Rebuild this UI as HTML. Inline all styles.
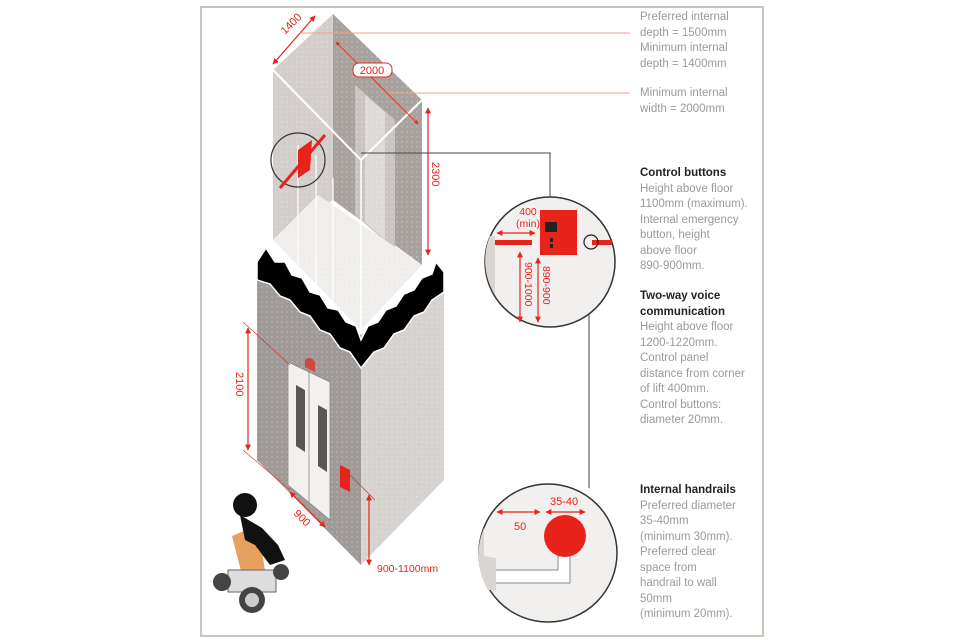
<!DOCTYPE html>
<html><head><meta charset="utf-8"><style>
body{margin:0;background:#fff;width:960px;height:640px;overflow:hidden;font-family:"Liberation Sans",sans-serif}
svg{position:absolute;left:0;top:0}
.t{position:absolute;left:640px;font-size:11.5px;line-height:15.5px;color:#9a9a9a;white-space:nowrap}
.t b{color:#222;font-weight:bold}
</style></head><body>
<svg width="960" height="640" viewBox="0 0 960 640">
<defs>
<pattern id="d" width="5" height="5" patternUnits="userSpaceOnUse"><circle cx="2" cy="2" r="0.7" fill="#fff" opacity="0.35"/></pattern>
<marker id="a" viewBox="0 0 10 10" refX="9" refY="5" markerWidth="5" markerHeight="5" orient="auto-start-reverse"><path d="M0,0L10,5L0,10z" fill="#e8231a"/></marker>
</defs>
<rect x="201" y="7" width="562" height="629" fill="#fff" stroke="#c9c6bd" stroke-width="2"/>
<polygon points="273,70 333,14 333,200 273,240" fill="#d3cecb"/>
<polygon points="333,14 422,100 422,265 333,200" fill="#a8a29f"/>
<polygon points="355,85 395,120 395,250 355,215" fill="#c9c4c1"/>
<polygon points="365,95 385,112 385,240 365,222" fill="#dedad7"/>
<polygon points="273,240 318,195 422,265 361,330 " fill="#efeeec"/>
<polyline points="273,70 361,160 422,100" fill="none" stroke="#fff" stroke-width="2"/>
<line x1="361" y1="160" x2="361" y2="330" stroke="#fff" stroke-width="1.5"/>
<line x1="298" y1="145" x2="298" y2="300" stroke="#fff" stroke-width="1.2"/>
<line x1="316" y1="155" x2="316" y2="310" stroke="#fff" stroke-width="1.2"/>
<line x1="333" y1="178" x2="333" y2="320" stroke="#fff" stroke-width="1.2"/>
<rect x="273" y="14" width="149" height="320" fill="url(#d)"/>
<polygon points="257,262 361,335 361,565 257,460" fill="#9f9a97"/>
<polygon points="361,335 444,272 444,480 361,565" fill="#d6d2cf"/>
<rect x="257" y="255" width="187" height="310" fill="url(#d)"/>
<path d="M257,262 L266,248 L275,262 L285,262 L292,275 L302,278 L310,292 L320,295 L328,308 L338,310 L346,322 L356,326 L361,340 L368,326 L378,322 L386,310 L396,306 L404,294 L414,290 L422,278 L432,274 L436,262 L444,272 L444,292 L432,300 L424,312 L414,316 L404,330 L394,334 L384,348 L374,352 L361,368 L350,352 L340,348 L330,334 L320,330 L310,316 L300,312 L290,300 L280,296 L270,284 L257,280 Z" fill="#000" stroke="#fff" stroke-width="1.5"/>
<polygon points="288,362 330,382 330,520 288,485" fill="#f2f1ef" stroke="#888" stroke-width="0.8"/>
<line x1="309" y1="372" x2="309" y2="502" stroke="#888" stroke-width="0.8"/>
<polygon points="296,385 305,390 305,452 296,446" fill="#5a5654"/>
<polygon points="318,405 327,410 327,472 318,466" fill="#5a5654"/>
<polygon points="340,465 350,470 350,492 340,487" fill="#e8231a"/>
<path d="M305,360 q5,-5 10,2 l0,10 l-10,-5z" fill="#e8231a" opacity="0.7"/>
<g stroke="#e8231a" stroke-width="1.2" fill="none">
<line x1="248" y1="328" x2="248" y2 ="450" marker-start="url(#a)" marker-end="url(#a)"/>
<line x1="243" y1="322" x2="290" y2="365" stroke-width="0.6"/>
<line x1="243" y1="450" x2="290" y2="490" stroke-width="0.6"/>
<line x1="290" y1="492" x2="325" y2="527" marker-start="url(#a)" marker-end="url(#a)"/>
<line x1="369" y1="495" x2="369" y2="565" marker-start="url(#a)" marker-end="url(#a)"/>
<line x1="350" y1="475" x2="375" y2="500" stroke-width="0.6"/>
<line x1="428" y1="108" x2="428" y2="255" marker-start="url(#a)" marker-end="url(#a)"/>
<line x1="273" y1="64" x2="315" y2="16" marker-start="url(#a)" marker-end="url(#a)"/>
<line x1="336" y1="42" x2="418" y2="124" stroke-width="0.8" marker-start="url(#a)" marker-end="url(#a)"/>
</g>
<g stroke="#f0a080" stroke-width="1"><line x1="300" y1="33" x2="630" y2="33"/><line x1="388" y1="93" x2="630" y2="93"/></g>
<rect x="353" y="63" width="39" height="14" rx="6" fill="#fff" stroke="#e8231a"/>
<g fill="#e8231a" font-size="11" font-family="Liberation Sans,sans-serif">
<text x="372" y="74" text-anchor="middle">2000</text>
<text transform="translate(285,35) rotate(-45)">1400</text>
<text transform="translate(432,162) rotate(90)">2300</text>
<text transform="translate(236,372) rotate(90)">2100</text>
<text transform="translate(293,514) rotate(45)">900</text>
<text x="377" y="572" font-size="10.5">900-1100mm</text>
</g>
<circle cx="298" cy="160" r="27" fill="none" stroke="#333" stroke-width="1.2"/>
<path d="M280,188 L325,135" stroke="#e8231a" stroke-width="3"/>
<polygon points="298,150 312,140 310,170 298,178" fill="#e8231a"/>
<g stroke="#444" stroke-width="1" fill="none">
<polyline points="361,153 550,153 550,197"/>
<line x1="589" y1="250" x2="589" y2="488"/>
</g>
<circle cx="550" cy="262" r="65" fill="#f1f0ee" stroke="#333" stroke-width="1.5"/>
<path d="M490,236 A65,65 0 0 0 495,295 L495,236Z" fill="#d8d5d2"/>
<rect x="540" y="210" width="37" height="45" fill="#e8231a"/>
<g fill="#222"><rect x="545" y="222" width="12" height="10"/><rect x="550" y="238" width="3" height="4"/><rect x="550" y="244" width="3" height="4"/></g>
<rect x="495" y="240" width="37" height="5" fill="#e8231a"/>
<rect x="592" y="240" width="20" height="5" fill="#e8231a"/>
<circle cx="591" cy="242" r="7" fill="none" stroke="#222" stroke-width="1.2"/>
<g stroke="#e8231a" stroke-width="1.2" fill="none">
<line x1="497" y1="233" x2="535" y2="233" marker-start="url(#a)" marker-end="url(#a)"/>
<line x1="520" y1="252" x2="520" y2="322" marker-start="url(#a)" marker-end="url(#a)"/>
<line x1="538" y1="258" x2="538" y2="322" marker-start="url(#a)" marker-end="url(#a)"/>
</g>
<g fill="#e8231a" font-size="10.5">
<text x="528" y="215" text-anchor="middle">400</text>
<text x="528" y="227" text-anchor="middle">(min)</text>
<text transform="translate(525,262) rotate(90)">900-1000</text>
<text transform="translate(543,266) rotate(90)">890-900</text>
</g>
<circle cx="548" cy="553" r="69" fill="#f1f0ee" stroke="#333" stroke-width="1.5"/>
<path d="M484,528 A69,69 0 0 0 488,590 L496,590 L496,558 L484,556Z" fill="#d8d5d2"/>
<polyline points="496,570 558,570 558,556 570,556 570,583 496,583" fill="#fff" stroke="#888"/>
<circle cx="565" cy="536" r="21" fill="#e8231a"/>
<g stroke="#e8231a" stroke-width="1.2"><line x1="497" y1="512" x2="540" y2="512" marker-end="url(#a)" marker-start="url(#a)"/><line x1="546" y1="512" x2="585" y2="512" marker-end="url(#a)" marker-start="url(#a)"/></g>
<g fill="#e8231a" font-size="11"><text x="514" y="530">50</text><text x="550" y="505">35-40</text></g>
<g>
<path d="M232,536 L258,525 L268,590 L248,598 Z" fill="#e7a060"/>
<circle cx="245" cy="505" r="12" fill="#111"/>
<path d="M240,515 L262,528 L278,545 L285,560 L270,565 L255,545 L245,540Z" fill="#111"/>
<rect x="228" y="570" width="48" height="22" fill="#ddd" stroke="#666"/>
<circle cx="252" cy="600" r="13" fill="#444"/><circle cx="252" cy="600" r="7" fill="#ccc"/>
<circle cx="222" cy="582" r="9" fill="#444"/><circle cx="281" cy="572" r="8" fill="#444"/>
</g>
</svg>
<div class="t" style="top:10px">Preferred internal<br>depth = 1500mm<br>Minimum internal<br>depth = 1400mm</div>
<div class="t" style="top:86px">Minimum internal<br>width = 2000mm</div>
<div class="t" style="top:166px"><b>Control buttons</b><br>Height above floor<br>1100mm (maximum).<br>Internal emergency<br>button, height<br>above floor<br>890-900mm.</div>
<div class="t" style="top:289px"><b>Two-way voice<br>communication</b><br>Height above floor<br>1200-1220mm.<br>Control panel<br>distance from corner<br>of lift 400mm.<br>Control buttons:<br>diameter 20mm.</div>
<div class="t" style="top:483px"><b>Internal handrails</b><br>Preferred diameter<br>35-40mm<br>(minimum 30mm).<br>Preferred clear<br>space from<br>handrail to wall<br>50mm<br>(minimum 20mm).</div>
</body></html>
